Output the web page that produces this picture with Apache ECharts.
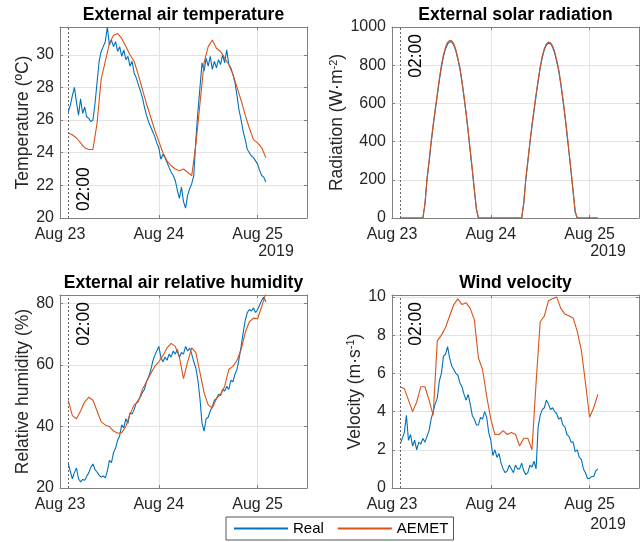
<!DOCTYPE html>
<html lang="en">
<head>
    <meta charset="UTF-8">
    <title>External conditions</title>
    <script type="text/javascript" src="https://cdn.jsdelivr.net/npm/echarts@6/dist/echarts.min.js"></script>
    <style>
        html, body { margin: 0; padding: 0; background: #fff; }
        #chart { width: 644px; height: 542px; }
    </style>
</head>
<body>
<div id="chart"></div>

<script type="text/javascript">
    // hours counted from Aug 23 00:00; both sources start at 02:00
    var startHour = 2;
    var realStep = 0.5;   // real sensor, every 30 min
    var aemetStep = 1;    // AEMET, hourly

    var dayLabels = { 0: 'Aug 23', 24: 'Aug 24', 48: 'Aug 25' };

    // ---- temperature (ºC)
    var realTemp = [
        26.5, 26.9, 27.5, 28.0, 27.1, 26.3, 27.3, 26.4, 26.8, 26.2,
        26.1, 25.9, 26.0, 27.0, 28.3, 29.6, 30.2, 30.5, 30.8, 31.7,
        30.6, 30.9, 30.5, 30.8, 30.2, 30.5, 29.9, 30.3, 29.7, 29.9,
        29.3, 29.6, 28.9, 28.6, 28.2, 27.8, 27.4, 26.8, 26.3, 25.9,
        25.6, 25.3, 25.0, 24.6, 24.3, 23.6, 23.9, 23.7, 23.4, 23.1,
        22.8, 22.6, 22.3, 21.7, 21.2, 21.9, 21.0, 20.6, 21.4, 21.8,
        22.1, 22.6, 24.8, 26.5, 28.0, 29.5, 29.0, 29.8, 29.3, 29.9,
        29.1, 29.6, 29.2, 29.7, 29.4, 30.0, 29.5, 30.3, 29.4, 29.2,
        28.8, 28.3, 27.5, 26.6, 26.0, 25.3, 24.8, 24.2, 24.0, 23.8,
        23.7, 23.5, 23.3, 22.9, 22.6, 22.5, 22.2
    ];
    var aemetTemp = [
        25.2, 25.1, 24.9, 24.6, 24.3, 24.2, 24.2, 25.8, 28.5, 29.6,
        30.7, 31.2, 31.3, 31.0, 30.5, 30.0, 29.6, 28.8, 27.9, 27.0,
        26.2, 25.4, 24.7, 24.0, 23.5, 23.2, 23.0, 22.9, 23.0, 22.8,
        22.6, 24.5, 27.0, 29.5, 30.5, 30.9, 30.4, 30.2, 29.8, 29.4,
        28.8, 28.0, 27.2, 26.3, 25.5, 24.8, 24.6, 24.3, 23.7
    ];

    // ---- solar radiation (W/m2), both every 30 min
    var realRad = [
        0, 0, 0, 0, 0, 0, 0, 0, 0, 0, 0, 0,
        70, 200, 290, 390, 480, 560, 640, 720, 790, 845, 885, 910, 922, 922,
        905, 875, 830, 780, 710, 630, 545, 450, 350, 250, 145, 45, 0,
        0, 0, 0, 0, 0, 0, 0, 0, 0, 0, 0, 0, 0, 0, 0, 0, 0, 0, 0, 0, 0,
        75, 200, 295, 390, 480, 560, 640, 715, 785, 840, 880, 905, 915, 912,
        895, 865, 820, 770, 700, 620, 535, 440, 340, 240, 135, 30, 0,
        0, 0, 0, 0, 0, 0, 0, 0, 0, 0
    ];
    var aemetRad = [
        0, 0, 0, 0, 0, 0, 0, 0, 0, 0, 0, 0,
        75, 205, 300, 400, 490, 570, 650, 730, 800, 855, 895, 920, 930, 928,
        912, 882, 838, 788, 718, 638, 552, 458, 358, 258, 152, 50, 0,
        0, 0, 0, 0, 0, 0, 0, 0, 0, 0, 0, 0, 0, 0, 0, 0, 0, 0, 0, 0, 0,
        80, 205, 300, 398, 488, 568, 648, 722, 792, 848, 888, 912, 922, 918,
        902, 872, 828, 778, 708, 628, 542, 448, 348, 248, 142, 35, 0,
        0, 0, 0, 0, 0, 0, 0, 0, 0, 0
    ];

    // ---- relative humidity (%)
    var realHum = [
        28.0, 25.5, 23.0, 25.0, 26.5, 23.0, 22.0, 22.8, 22.5, 23.8,
        25.0, 26.8, 27.8, 26.0, 25.2, 24.2, 23.5, 23.9, 23.3, 25.5,
        29.0, 28.2, 31.5, 33.0, 35.5, 37.0, 40.5, 39.5, 42.5, 41.0,
        44.5, 44.0, 45.5, 47.5, 48.5, 49.5, 51.0, 52.0, 54.5, 56.0,
        58.0, 61.0, 63.0, 64.5, 66.0, 62.5, 61.0, 62.5, 61.5, 63.5,
        62.5, 64.5, 63.5, 65.0, 62.5, 64.0, 63.5, 66.0, 64.5, 65.5,
        63.5, 61.0, 59.0, 55.0, 49.0, 41.0, 38.5, 42.5, 43.0, 45.0,
        46.5, 48.5, 49.0, 50.5, 50.0, 52.0, 51.5, 53.0, 52.0, 55.0,
        54.5, 57.0, 58.5, 62.0, 66.0, 70.5, 74.5, 77.0, 78.0, 77.5,
        78.5, 77.0, 78.0, 79.5, 81.0, 82.0, 80.5
    ];
    var aemetHum = [
        48.5, 43.5, 42.5, 45, 48, 49.5, 48.5, 45, 41.5, 40.5,
        40, 38.5, 37.8, 38, 40, 44, 47, 48, 52, 54.5,
        57, 59.5, 61, 63, 65.5, 67, 66, 62.5, 55.5, 61,
        65.5, 64, 57.5, 51, 47, 46, 49, 50.5, 53, 58.5,
        59.5, 61.5, 65, 70.5, 74, 75.2, 75, 79, 83.2
    ];

    // ---- wind velocity (m/s)
    var realWind = [
        2.3, 2.6, 2.9, 3.8, 2.5, 2.8, 2.2, 2.5, 2.0, 2.4,
        2.3, 2.6, 2.4, 2.7, 3.0, 3.6, 4.0, 4.4, 4.7, 5.6,
        6.0, 6.9, 7.0, 7.4, 6.8, 6.4, 6.2, 6.0, 5.9, 5.5,
        5.3, 4.9, 4.6, 4.9, 4.4, 3.8, 3.6, 3.3, 3.3, 3.7,
        3.6, 4.0, 3.7, 2.9, 2.5, 1.7, 2.0, 1.6, 1.8, 1.3,
        1.0, 0.8, 0.9, 1.2, 1.0, 0.8, 1.2, 1.0, 1.0, 1.3,
        0.9, 0.7, 0.8, 1.2, 1.1, 1.4, 1.0, 3.2, 3.8, 4.1,
        4.2, 4.6, 4.4, 4.1, 4.2, 4.0, 3.9, 3.6, 3.7, 3.3,
        3.2, 2.8, 2.7, 2.4, 2.4, 1.9, 2.0, 1.6, 1.5, 1.0,
        0.8, 0.5, 0.5, 0.6, 0.6, 0.9, 1.0
    ];
    var aemetWind = [
        5.3, 5.2, 4.6, 4.0, 4.5, 5.3, 5.3, 4.6, 3.8, 7.7,
        8.0, 8.4, 9.0, 9.6, 9.9, 9.6, 9.7, 9.4, 8.8, 6.8,
        6.2, 4.8, 3.6, 2.8, 2.8, 3.0, 2.8, 2.9, 2.8, 2.2,
        2.6, 2.6, 2.0, 5.5, 8.7, 9.0, 9.8, 9.9, 10.0, 9.4,
        9.1, 9.0, 8.9, 8.2, 7.2, 5.5, 3.7, 4.2, 4.9
    ];

    var FONT = '"Liberation Sans", Arial, Helvetica, sans-serif';
    var BLUE = '#0072BD';
    var ORANGE = '#D95319';
    var BOX = '#808080';
    var TEXT = '#262626';

    function toPairs(values, step) {
        var out = [];
        for (var k = 0; k < values.length; k++) {
            out.push([startHour + k * step, values[k]]);
        }
        return out;
    }

    var panels = [
        { title: 'External air temperature', yName: 'Temperature (ºC)', nameGap: 28,
          min: 20, max: 31.7, interval: 2, real: realTemp, aemet: aemetTemp, aemetStep: aemetStep,
          grid: { left: 60, top: 27, width: 247, height: 191 }, mark: 'insideStartBottom' },
        { title: 'External solar radiation', yName: 'Radiation (W·m{sup|-2})', nameGap: 39,
          min: 0, max: 1000, interval: 200, real: realRad, aemet: aemetRad, aemetStep: realStep,
          grid: { left: 392, top: 27, width: 247, height: 191 }, mark: 'insideEndBottom' },
        { title: 'External air relative humidity', yName: 'Relative humidity (%)', nameGap: 28,
          min: 20, max: 82.7, interval: 20, real: realHum, aemet: aemetHum, aemetStep: aemetStep,
          grid: { left: 60, top: 295, width: 247, height: 193 }, mark: 'insideEndBottom' },
        { title: 'Wind velocity', yName: 'Velocity (m·s{sup|-1})', nameGap: 25,
          min: 0, max: 10.1, interval: 2, real: realWind, aemet: aemetWind, aemetStep: aemetStep,
          grid: { left: 392, top: 295, width: 247, height: 193 }, mark: 'insideEndBottom' }
    ];

    var grids = [], xAxes = [], yAxes = [], series = [], graphics = [];
    var tick = { show: true, inside: true, length: 3, lineStyle: { color: BOX, width: 1 } };
    var line = { show: true, onZero: false, lineStyle: { color: BOX, width: 1 } };
    var split = { show: true, showMinLine: false, showMaxLine: false, lineStyle: { color: '#e3e3e3', width: 1 } };

    panels.forEach(function(p, i) {
        grids.push(p.grid);

        // bottom / left axes carry the labels
        xAxes.push({
            type: 'value', gridIndex: i, min: 0, max: 60, interval: 24,
            axisLine: line, axisTick: tick, splitLine: split,
            axisLabel: {
                color: TEXT, fontFamily: FONT, fontSize: 16, margin: 9, showMaxLabel: false,
                formatter: function(v) { return dayLabels[v] || ''; }
            }
        });
        yAxes.push({
            type: 'value', gridIndex: i, min: p.min, max: p.max, interval: p.interval,
            axisLine: line, axisTick: tick, splitLine: split,
            axisLabel: {
                color: TEXT, fontFamily: FONT, fontSize: 16, margin: 6,
                showMaxLabel: p.max % p.interval === 0,
                formatter: function(v) { return String(v); }
            },
            name: p.yName, nameLocation: 'middle', nameGap: p.nameGap,
            nameTextStyle: {
                color: TEXT, fontFamily: FONT, fontSize: 17.5,
                rich: { sup: { fontSize: 11, fontFamily: FONT, color: TEXT, verticalAlign: 'top', padding: [0, 0, 8, 0] } }
            }
        });

        series.push({
            name: 'Real', type: 'line', xAxisIndex: i, yAxisIndex: i,
            data: toPairs(p.real, realStep), showSymbol: false, symbol: 'none',
            lineStyle: { color: BLUE, width: 1.1 }, itemStyle: { color: BLUE },
            animation: false,
            markLine: {
                silent: true, symbol: ['none', 'none'], animation: false,
                lineStyle: { color: '#666', width: 1, type: [2, 2] },
                label: {
                    show: true, position: p.mark, formatter: '02:00', distance: 7,
                    color: '#000', fontFamily: FONT, fontSize: 17.5
                },
                data: [{ xAxis: 2 }]
            }
        });
        series.push({
            name: 'AEMET', type: 'line', xAxisIndex: i, yAxisIndex: i,
            data: toPairs(p.aemet, p.aemetStep), showSymbol: false, symbol: 'none',
            lineStyle: { color: ORANGE, width: 1.1 }, itemStyle: { color: ORANGE },
            animation: false
        });

        graphics.push({
            type: 'text', x: p.grid.left + p.grid.width / 2, y: p.grid.top - 12,
            style: { text: p.title, font: 'bold 17.5px ' + FONT, fill: '#000', align: 'center', verticalAlign: 'middle' }
        });
    });

    // mirrored top / right axes: only the box edge and inward ticks
    panels.forEach(function(p, i) {
        xAxes.push({
            type: 'value', gridIndex: i, position: 'top', min: 0, max: 60, interval: 24,
            axisLine: line, axisTick: tick, axisLabel: { show: false }, splitLine: { show: false }
        });
        yAxes.push({
            type: 'value', gridIndex: i, position: 'right', min: p.min, max: p.max, interval: p.interval,
            axisLine: line, axisTick: tick, axisLabel: { show: false }, splitLine: { show: false }
        });
    });

    // year under the last date of the panels whose labels are not hidden by the legend
    [[276, 252], [608, 252], [608, 525]].forEach(function(pos) {
        graphics.push({
            type: 'text', x: pos[0], y: pos[1],
            style: { text: '2019', font: '16px ' + FONT, fill: TEXT, align: 'center', verticalAlign: 'middle' }
        });
    });

    var chart = echarts.init(document.getElementById('chart'), null, { renderer: 'canvas' });
    chart.setOption({
        backgroundColor: '#fff',
        animation: false,
        grid: grids,
        xAxis: xAxes,
        yAxis: yAxes,
        series: series,
        graphic: graphics,
        legend: {
            data: ['Real', 'AEMET'],
            left: 226, top: 517,
            itemWidth: 54, itemHeight: 2, itemGap: 13,
            padding: [4, 5, 4, 7],
            borderColor: '#555', borderWidth: 1,
            textStyle: { color: '#000', fontFamily: FONT, fontSize: 15 }
        }
    });
</script>
</body>
</html>
